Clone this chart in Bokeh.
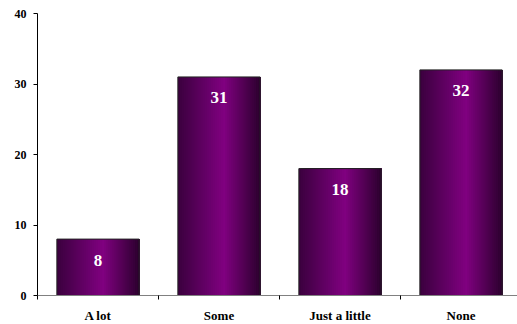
import numpy as np
from bokeh.plotting import figure
from bokeh.models import Range1d, FixedTicker, Label, ColumnDataSource
from bokeh.core.properties import value
from bokeh.embed import file_html
from bokeh.resources import INLINE

title_text = "Confidence in the Government"
categories = ["A lot", "Some", "Just a little", "None"]
values = [8, 31, 18, 32]
y_ticks = [0, 10, 20, 30, 40]

FONT = "Liberation Serif"
bar_w = 0.68
x_end = 480 / 121.0

p = figure(width=517, height=324, output_backend="svg", toolbar_location=None,
           x_range=Range1d(0, x_end), y_range=Range1d(0, 40),
           frame_width=480, frame_height=282,
           min_border_left=37, min_border_right=0, min_border_top=13, min_border_bottom=29)
p.outline_line_color = None
p.xgrid.visible = False
p.ygrid.visible = False
p.background_fill_color = "white"
p.border_fill_color = "white"

# gradient strips for each bar (layered so no seams)
N = 40
left_c = np.array([58, 0, 62])
peak_c = np.array([128, 0, 128])
right_c = np.array([44, 0, 46])
peak_t = 0.56
lefts, rights, tops, colors = [], [], [], []
for i, v in enumerate(values):
    cx = i + 0.5
    x0 = cx - bar_w / 2
    for k in range(N):
        t = (k + 0.5) / N
        if t <= peak_t:
            f = t / peak_t
            c = left_c + (peak_c - left_c) * f
        else:
            f = (t - peak_t) / (1 - peak_t)
            c = peak_c + (right_c - peak_c) * f
        lefts.append(x0 + k / N * bar_w)
        rights.append(x0 + bar_w)
        tops.append(v)
        colors.append("#%02x%02x%02x" % tuple(int(round(a)) for a in c))
strip_src = ColumnDataSource(dict(left=lefts, right=rights, top=tops,
                                  bottom=[0] * len(tops), color=colors))
p.quad(left="left", right="right", top="top", bottom="bottom", source=strip_src,
       fill_color="color", line_color=None)

bar_src = ColumnDataSource(dict(x=[i + 0.5 for i in range(len(values))], top=values,
                                lbl=[str(v) for v in values]))
p.vbar(x="x", top="top", width=bar_w, bottom=0, source=bar_src,
       fill_color=None, line_color="#222222", line_width=1)

p.text(x="x", y="top", text="lbl", source=bar_src, y_offset=21,
       text_align="center", text_baseline="middle", text_color="white",
       text_font=value(FONT), text_font_style="bold", text_font_size="17px")

# axes
xa = p.xaxis[0]
xa.ticker = FixedTicker(ticks=[i + 0.5 for i in range(len(categories))],
                        minor_ticks=list(range(len(categories))))
xa.major_label_overrides = {i + 0.5: c for i, c in enumerate(categories)}
xa.major_tick_line_color = None
xa.major_tick_out = 0
xa.major_tick_in = 0
xa.minor_tick_out = 4
xa.minor_tick_in = 0
xa.minor_tick_line_color = "black"
xa.axis_line_color = "#808080"
xa.axis_line_width = 1
xa.major_label_text_font = FONT
xa.major_label_text_font_style = "bold"
xa.major_label_text_font_size = "13px"
xa.major_label_text_color = "black"
xa.major_label_standoff = 8

ya = p.yaxis[0]
ya.ticker = FixedTicker(ticks=y_ticks, minor_ticks=[])
ya.major_tick_out = 4
ya.major_tick_in = 0
ya.minor_tick_line_color = None
ya.axis_line_color = "black"
ya.major_label_text_font = FONT
ya.major_label_text_font_style = "bold"
ya.major_label_text_font_size = "12px"
ya.major_label_text_color = "black"
ya.major_label_standoff = 7

title = Label(x=2.0, y=40 + 10.5 / 7.05, text=title_text, text_align="center",
              text_baseline="alphabetic", text_font=FONT, text_font_style="bold",
              text_font_size="29px", text_color="black")
p.add_layout(title)

open("out.html", "w").write(file_html(p, INLINE))
